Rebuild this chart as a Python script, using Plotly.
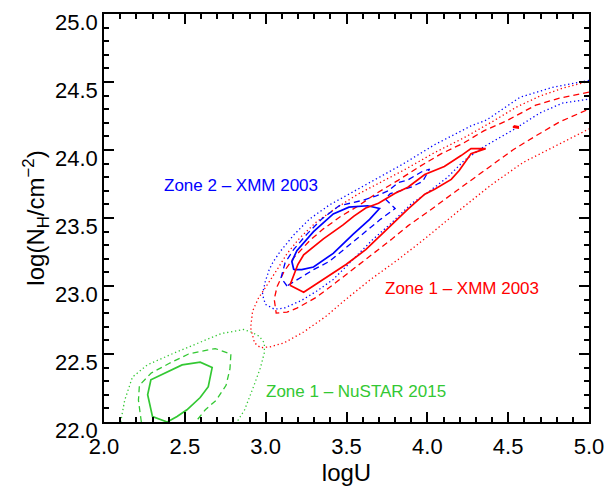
import plotly.graph_objects as go

# ---- confidence contours in the (logU, logNH) plane -------------------------
# Zone 1 - NuSTAR 2015 (green)
nustar_z1_solid_u = [2.391, 2.300, 2.270, 2.290, 2.483, 2.595, 2.669, 2.645, 2.595, 2.513, 2.452, 2.391]
nustar_z1_solid_nh = [22.00, 22.04, 22.20, 22.31, 22.42, 22.44, 22.40, 22.26, 22.18, 22.09, 22.04, 22.00]
nustar_z1_dash_u = [2.231, 2.213, 2.219, 2.292, 2.402, 2.523, 2.688, 2.785, 2.779, 2.755, 2.694, 2.627, 2.566]
nustar_z1_dash_nh = [22.00, 22.16, 22.27, 22.36, 22.43, 22.50, 22.54, 22.50, 22.39, 22.27, 22.16, 22.09, 22.00]
nustar_z1_dot_u = [2.103, 2.128, 2.176, 2.268, 2.420, 2.584, 2.724, 2.864, 2.913, 2.961, 2.992, 2.992,
                   2.968, 2.925, 2.870, 2.822]
nustar_z1_dot_nh = [22.00, 22.16, 22.33, 22.42, 22.50, 22.58, 22.65, 22.68, 22.66, 22.63, 22.58, 22.51,
                    22.40, 22.26, 22.09, 22.00]

# Zone 2 - XMM 2003 (blue)
xmm_z2_solid_u = [3.174, 3.162, 3.193, 3.296, 3.418, 3.515, 3.631, 3.704, 3.643, 3.540, 3.418, 3.296, 3.223, 3.174]
xmm_z2_solid_nh = [23.12, 23.18, 23.26, 23.40, 23.53, 23.58, 23.59, 23.57, 23.49, 23.38, 23.24, 23.14, 23.12, 23.12]
xmm_z2_dash_u = [3.132, 3.095, 3.120, 3.174, 3.254, 3.345, 3.454, 3.600, 3.679, 3.759, 3.819, 3.880, 3.965,
                 4.014, 3.972, 3.905, 3.832, 3.771, 3.740, 3.801, 3.710, 3.619, 3.515, 3.393, 3.296, 3.211, 3.132]
xmm_z2_dash_nh = [23.00, 23.06, 23.17, 23.27, 23.38, 23.49, 23.59, 23.63, 23.66, 23.70, 23.76, 23.78, 23.84,
                  23.86, 23.77, 23.73, 23.70, 23.68, 23.64, 23.57, 23.49, 23.40, 23.30, 23.18, 23.12, 23.06, 23.00]
xmm_z2_dot_u = [5.000, 4.775, 4.574, 4.367, 4.270, 4.045, 3.844, 3.637, 3.497, 3.393, 3.272, 3.174, 3.089,
                3.047, 3.022, 2.998, 2.980, 2.998, 3.053, 3.114, 3.223, 3.314, 3.418, 3.540, 3.661, 3.771,
                3.905, 3.996, 4.124, 4.227, 4.349, 4.531, 4.696, 4.836, 5.000]
xmm_z2_dot_nh = [24.512, 24.461, 24.388, 24.221, 24.177, 24.039, 23.893, 23.755, 23.667, 23.595, 23.493,
                 23.376, 23.252, 23.179, 23.121, 23.034, 22.939, 22.866, 22.830, 22.837, 22.895, 22.961,
                 23.048, 23.194, 23.340, 23.456, 23.609, 23.682, 23.798, 23.922, 24.024, 24.148, 24.272,
                 24.345, 24.374]

# Zone 1 - XMM 2003 (red)
xmm_z1_solid_u = [3.150, 3.168, 3.199, 3.235, 3.357, 3.479, 3.546, 3.619, 3.698, 3.801, 3.880, 3.984, 4.105,
                  4.209, 4.270, 4.361, 4.270, 4.245, 4.197, 4.148, 4.045, 3.984, 3.880, 3.740, 3.619, 3.497,
                  3.357, 3.235, 3.150]
xmm_z1_solid_nh = [23.005, 23.063, 23.158, 23.230, 23.347, 23.449, 23.514, 23.573, 23.609, 23.682, 23.726,
                   23.820, 23.879, 23.959, 24.010, 24.010, 23.973, 23.930, 23.849, 23.784, 23.711, 23.675,
                   23.565, 23.405, 23.267, 23.158, 23.048, 22.954, 23.005]
xmm_z1_island_u = [4.534, 4.562, 4.562, 4.534, 4.534]
xmm_z1_island_nh = [24.177, 24.172, 24.162, 24.167, 24.177]
xmm_z1_dash_u = [5.000, 4.817, 4.671, 4.489, 4.349, 4.227, 4.087, 3.953, 3.819, 3.686, 3.570, 3.467, 3.357,
                 3.278, 3.174, 3.114, 3.071, 3.053, 3.065, 3.132, 3.193, 3.314, 3.436, 3.540, 3.679, 3.783,
                 3.880, 4.002, 4.185, 4.367, 4.531, 4.671, 4.817, 5.000]
xmm_z1_dash_nh = [24.425, 24.381, 24.330, 24.214, 24.141, 24.053, 23.973, 23.879, 23.777, 23.682, 23.587,
                  23.514, 23.420, 23.340, 23.209, 23.107, 22.997, 22.903, 22.801, 22.808, 22.837, 22.917,
                  23.027, 23.121, 23.252, 23.347, 23.442, 23.544, 23.704, 23.864, 24.002, 24.104, 24.206,
                  24.301]
xmm_z1_dot_u = [5.000, 4.836, 4.696, 4.550, 4.410, 4.227, 4.045, 3.862, 3.710, 3.570, 3.436, 3.314, 3.211,
                3.132, 3.071, 3.010, 2.955, 2.919, 2.907, 2.931, 2.968, 3.028, 3.114, 3.235, 3.375, 3.497,
                3.649, 3.819, 3.984, 4.185, 4.391, 4.592, 4.793, 5.000]
xmm_z1_dot_nh = [24.505, 24.454, 24.396, 24.315, 24.214, 24.090, 23.981, 23.857, 23.762, 23.675, 23.573,
                 23.471, 23.354, 23.238, 23.121, 23.012, 22.910, 22.815, 22.692, 22.582, 22.546, 22.553,
                 22.582, 22.662, 22.779, 22.903, 23.048, 23.194, 23.347, 23.544, 23.740, 23.908, 24.031,
                 24.155]

# ---- labels ---------------------------------------------------------------
zone_labels = ["Zone 2 \u2013 XMM 2003", "Zone 1 \u2013 XMM 2003", "Zone 1 \u2013 NuSTAR 2015"]
zone_label_u = [2.849, 4.215, 3.560]
zone_label_nh = [23.740, 22.985, 22.225]

x_range = [2.0, 5.0]
y_range = [22.0, 25.0]
major_step = 0.5
minor_step = 0.1

RED, BLUE, GREEN = "#ff0000", "#0000ff", "#33c833"
SOLID = dict(width=1.7, dash="solid")
DASH = dict(width=1.3, dash="6px,4px")
DOT = dict(width=1.3, dash="1.3px,2.7px")
FONT = "Liberation Sans, Arial, sans-serif"

contours = [
    (nustar_z1_dot_u, nustar_z1_dot_nh, GREEN, DOT),
    (nustar_z1_dash_u, nustar_z1_dash_nh, GREEN, DASH),
    (nustar_z1_solid_u, nustar_z1_solid_nh, GREEN, SOLID),
    (xmm_z1_dot_u, xmm_z1_dot_nh, RED, DOT),
    (xmm_z2_dot_u, xmm_z2_dot_nh, BLUE, DOT),
    (xmm_z1_dash_u, xmm_z1_dash_nh, RED, DASH),
    (xmm_z2_dash_u, xmm_z2_dash_nh, BLUE, DASH),
    (xmm_z2_solid_u, xmm_z2_solid_nh, BLUE, SOLID),
    (xmm_z1_solid_u, xmm_z1_solid_nh, RED, SOLID),
]

fig = go.Figure()
for u, nh, color, style in contours:
    fig.add_trace(go.Scatter(x=u, y=nh, mode="lines",
                             line=dict(color=color, **style),
                             hoverinfo="skip", showlegend=False))

# the small isolated island sits on the overlaid tick-frame axes (same ranges)
fig.add_trace(go.Scatter(x=xmm_z1_island_u, y=xmm_z1_island_nh, mode="lines",
                         line=dict(color=RED, **SOLID), xaxis="x2", yaxis="y2",
                         hoverinfo="skip", showlegend=False))

for text, u, nh, color in zip(zone_labels, zone_label_u, zone_label_nh, [BLUE, RED, GREEN]):
    fig.add_annotation(x=u, y=nh, text=text, showarrow=False,
                       xanchor="center", yanchor="middle",
                       font=dict(family=FONT, size=17, color=color))

tick_style = dict(
    showline=True, linecolor="black", linewidth=1.5, mirror="ticks",
    tickmode="linear", dtick=major_step,
    ticks="inside", ticklen=10, tickwidth=1.5, tickcolor="black",
    minor=dict(ticks="inside", ticklen=5, tickcolor="black", dtick=minor_step),
    showgrid=False, zeroline=False,
)

# labelled axes
fig.update_layout(
    xaxis=dict(range=x_range, tick0=x_range[0], tickformat=".1f", ticklabelstandoff=4,
               tickfont=dict(family=FONT, size=22, color="black"),
               title=dict(text="logU", standoff=0, font=dict(family=FONT, size=24, color="black")),
               **tick_style),
    yaxis=dict(range=y_range, tick0=y_range[0], tickformat=".1f", ticklabelshift=8,
               tickfont=dict(family=FONT, size=22, color="black"),
               title=dict(text="log(N<sub>H</sub>/cm<sup>\u22122</sup>)", standoff=4,
                          font=dict(family=FONT, size=24, color="black")),
               **tick_style),
    # unlabelled overlay axes carrying the tick frame
    xaxis2=dict(range=x_range, tick0=x_range[0], overlaying="x", anchor="y2", side="bottom",
                showticklabels=False, **tick_style),
    yaxis2=dict(range=y_range, tick0=y_range[0], overlaying="y", anchor="x2", side="left",
                showticklabels=False, **tick_style),
)

fig.update_layout(width=614, height=487, margin=dict(l=104, r=17, t=10, b=65),
                  paper_bgcolor="white", plot_bgcolor="white")

fig.write_html("out.html")
